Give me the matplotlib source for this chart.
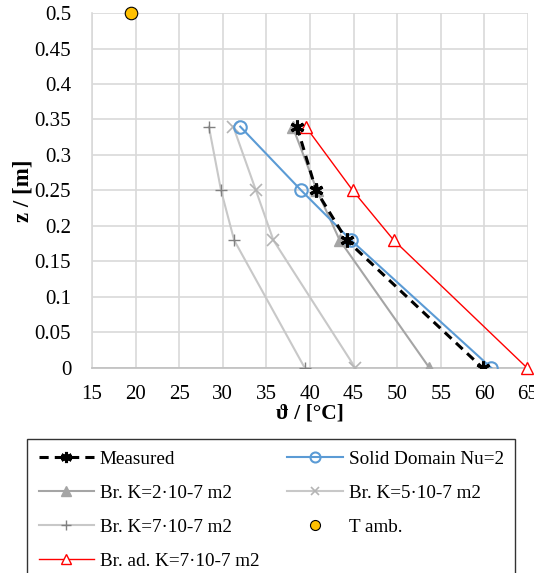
import matplotlib
matplotlib.use('Agg')
import matplotlib.pyplot as plt

plt.rcParams['font.family'] = ['Liberation Serif', 'DejaVu Serif']

# heights along the domain [m]
z = [0.34, 0.25, 0.18, 0.0]

# temperatures [°C]
measured = [38.5, 40.7, 44.2, 59.8]
solid_nu2 = [32.0, 39.0, 44.7, 60.8]
br_k2 = [38.0, 40.8, 43.4, 53.7]
br_k5 = [31.2, 33.8, 35.8, 45.2]
br_k7 = [28.4, 29.8, 31.3, 39.4]
br_ad_k7 = [39.5, 44.9, 49.6, 64.9]
t_amb_x = [19.5]
t_amb_z = [0.5]

xticks = list(range(15, 70, 5))
yticks = [0, 0.05, 0.1, 0.15, 0.2, 0.25, 0.3, 0.35, 0.4, 0.45, 0.5]
ytick_labels = ['0', '0.05', '0.1', '0.15', '0.2', '0.25', '0.3', '0.35', '0.4', '0.45', '0.5']

fig = plt.figure(figsize=(5.34, 5.73), dpi=100)
ax = fig.add_axes([0.1723, 0.3578, 0.8165, 0.6195])

l1, = ax.plot(measured, z, color='black', ls=(0, (3, 2)), lw=2.2,
              marker=(6, 2, 0), ms=10, mew=2.2, zorder=6, label='Measured')
l2, = ax.plot(solid_nu2, z, color='#5B9BD5', lw=1.5, marker='o', ms=9,
              mfc='none', mec='#5B9BD5', mew=1.5, zorder=5, label='Solid Domain Nu=2')
l3, = ax.plot(br_k2, z, color='#A5A5A5', lw=1.5, marker='^', ms=9,
              mfc='#A5A5A5', mec='#A5A5A5', zorder=4, label='Br. K=2\u00b710-7 m2')
l4, = ax.plot(br_k5, z, color='#C8C8C8', lw=1.5, marker='x', ms=8,
              mec='#B4B4B4', mew=1.2, zorder=3, label='Br. K=5\u00b710-7 m2')
l5, = ax.plot(br_k7, z, color='#C8C8C8', lw=1.5, marker='+', ms=9,
              mec='#808080', mew=1.0, zorder=3, label='Br. K=7\u00b710-7 m2')
l6, = ax.plot(t_amb_x, t_amb_z, ls='none', marker='o', ms=9,
              mfc='#FFC000', mec='black', mew=0.8, zorder=7, clip_on=False, label='T amb.')
l7, = ax.plot(br_ad_k7, z, color='#FF0000', lw=1.0, marker='^', ms=9,
              mfc='white', mec='#FF0000', mew=1.0, zorder=5, clip_on=False,
              label='Br. ad. K=7\u00b710-7 m2')

ax.set_xlim(15, 65)
ax.set_ylim(0, 0.5)
ax.set_xticks(xticks)
ax.set_yticks(yticks)
ax.set_yticklabels(ytick_labels)
ax.grid(True, color='#D9D9D9', lw=1.2)
ax.set_axisbelow(True)
for s in ['top', 'right']:
    ax.spines[s].set_visible(False)
ax.spines['left'].set_color('#D9D9D9')
ax.spines['bottom'].set_color('#BFBFBF')
ax.spines['left'].set_linewidth(1.2)
ax.spines['bottom'].set_linewidth(1.2)
ax.tick_params(length=0, labelsize=15)
ax.tick_params(axis='x', pad=12)
ax.tick_params(axis='y', pad=15)

ax.set_xlabel('\u03d1 / [\u00b0C]', fontsize=15.5, fontweight='bold', labelpad=0)
ax.set_ylabel('z / [m]', fontsize=16.5, fontweight='bold', labelpad=1)

# row-wise order like the original legend (matplotlib fills columns first)
handles = [l1, l3, l5, l7, l2, l4, l6]
leg = fig.legend(handles=handles, labels=[h.get_label() for h in handles],
                 loc='upper left', bbox_to_anchor=(0.0506, 0.0, 0.9139, 0.2339),
                 mode='expand', ncol=2, markerscale=0.8,
                 fontsize=13.8, frameon=True, fancybox=False, edgecolor='black',
                 handlelength=2.9, handletextpad=0.3, columnspacing=1.3,
                 labelspacing=0.86, borderpad=0.6, borderaxespad=0)
leg.get_frame().set_linewidth(1.0)

fig.savefig('out.png', dpi=100)
